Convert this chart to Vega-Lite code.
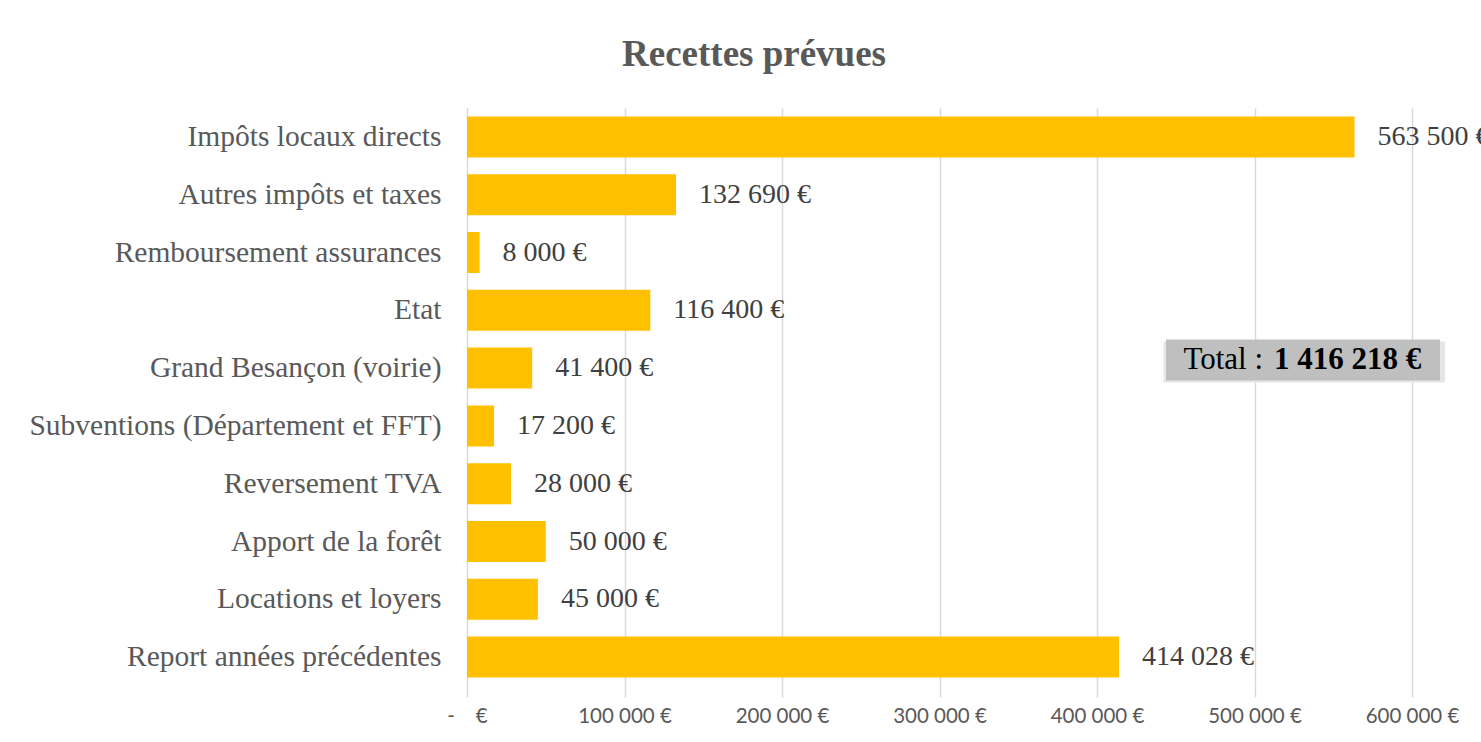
{
  "$schema": "https://vega.github.io/schema/vega-lite/v6.json",
  "autosize": {"type": "none"},
  "width": 945,
  "height": 578,
  "padding": {"left": 467, "top": 108, "right": 69, "bottom": 56},
  "background": "white",
  "config": {
    "view": {"stroke": null},
    "locale": {"number": {"decimal": ",", "thousands": "\u00a0", "grouping": [3], "currency": ["", " €"]}}
  },
  "title": {
    "text": "Recettes prévues",
    "font": "Liberation Serif",
    "fontSize": 37,
    "fontWeight": "bold",
    "color": "#595959",
    "anchor": "start",
    "frame": "group",
    "dx": 155,
    "offset": 5,
    "baseline": "alphabetic"
  },
  "data": {
    "values": [
      {"poste": "Impôts locaux directs", "montant": 563500},
      {"poste": "Autres impôts et taxes", "montant": 132690},
      {"poste": "Remboursement assurances", "montant": 8000},
      {"poste": "Etat", "montant": 116400},
      {"poste": "Grand Besançon (voirie)", "montant": 41400},
      {"poste": "Subventions (Département et FFT)", "montant": 17200},
      {"poste": "Reversement TVA", "montant": 28000},
      {"poste": "Apport de la forêt", "montant": 50000},
      {"poste": "Locations et loyers", "montant": 45000},
      {"poste": "Report années précédentes", "montant": 414028}
    ]
  },
  "encoding": {
    "y": {
      "field": "poste",
      "type": "nominal",
      "sort": null,
      "scale": {"paddingInner": 0.29, "paddingOuter": 0.145},
      "axis": {
        "title": null,
        "ticks": false,
        "domain": true,
        "domainColor": "#D9D9D9",
        "labelFont": "Liberation Serif",
        "labelFontSize": 29.5,
        "labelColor": "#595959",
        "labelPadding": 26,
        "labelLimit": 600
      }
    }
  },
  "layer": [
    {
      "mark": {"type": "bar", "color": "#FFC000"},
      "encoding": {
        "x": {
          "field": "montant",
          "type": "quantitative",
          "scale": {"domain": [0, 600000], "nice": false},
          "axis": {
            "title": null,
            "values": [0, 100000, 200000, 300000, 400000, 500000, 600000],
            "grid": true,
            "gridColor": "#D9D9D9",
            "gridWidth": 1.5,
            "domain": false,
            "ticks": true,
            "tickSize": 11,
            "tickColor": "#D9D9D9",
            "tickWidth": 1.5,
            "labelFont": "Lato",
            "labelFontSize": 20.5,
            "labelColor": "#595959",
            "labelPadding": 9,
            "labelFlush": false,
            "labelOverlap": false,
            "labelExpr": "datum.value == 0 ? '-\u00a0\u00a0\u00a0\u00a0€' : format(datum.value, '$,.0f')"
          }
        }
      }
    },
    {
      "mark": {"type": "text", "align": "left", "baseline": "middle", "dx": 23, "font": "Liberation Serif", "fontSize": 28, "color": "#404040"},
      "encoding": {
        "x": {"field": "montant", "type": "quantitative"},
        "text": {"field": "montant", "type": "quantitative", "format": "$,.0f"}
      }
    },
    {
      "transform": [{"aggregate": [{"op": "sum", "field": "montant", "as": "total"}]}],
      "layer": [
        {
          "mark": {"type": "bar", "color": "#E6E6E6", "yOffset": -6, "xOffset": 2},
          "encoding": {
            "x": {"datum": 441000},
            "x2": {"datum": 621000},
            "y": {"datum": "Grand Besançon (voirie)"}
          }
        },
        {
          "mark": {"type": "bar", "color": "#BFBFBF", "yOffset": -8},
          "encoding": {
            "x": {"datum": 443800},
            "x2": {"datum": 617800},
            "y": {"datum": "Grand Besançon (voirie)"}
          }
        },
        {
          "mark": {"type": "text", "align": "right", "baseline": "middle", "yOffset": -8, "font": "Liberation Serif", "fontSize": 31, "fontWeight": "normal", "color": "#000000"},
          "encoding": {
            "x": {"datum": 505400},
            "y": {"datum": "Grand Besançon (voirie)"},
            "text": {"value": "Total :"}
          }
        },
        {
          "mark": {"type": "text", "align": "left", "baseline": "middle", "yOffset": -8, "font": "Liberation Serif", "fontSize": 31, "fontWeight": "bold", "color": "#000000"},
          "encoding": {
            "x": {"datum": 512400},
            "y": {"datum": "Grand Besançon (voirie)"},
            "text": {"field": "total", "type": "quantitative", "format": "$,.0f"}
          }
        }
      ]
    }
  ]
}
